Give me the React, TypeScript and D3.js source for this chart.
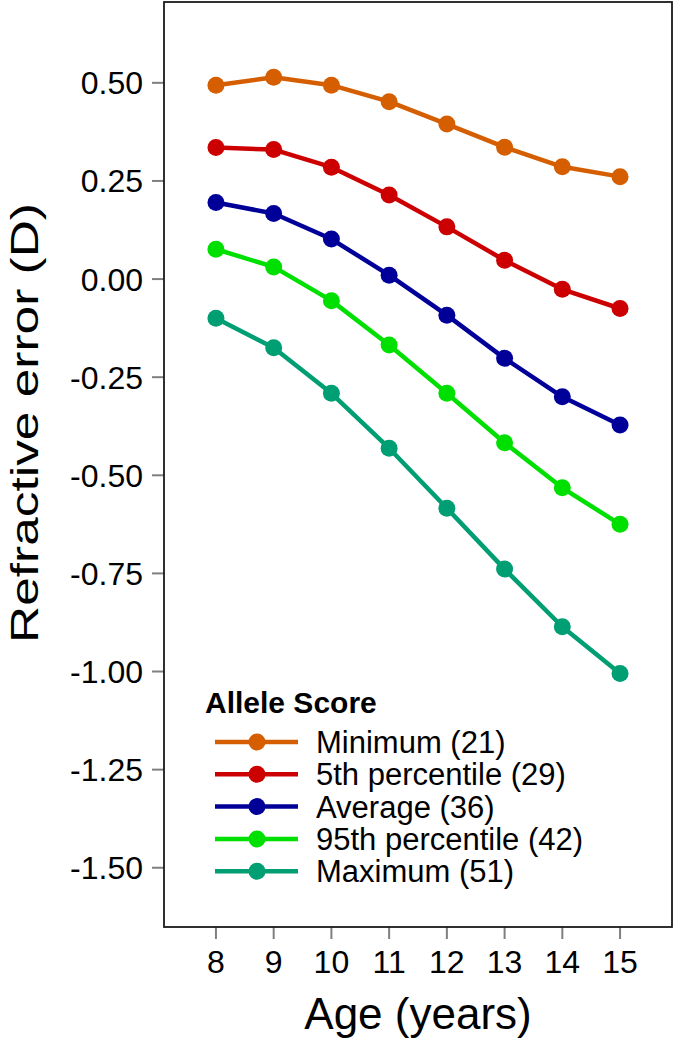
import React from "react";
import * as d3 from "d3";

// ages on the x axis
const ages = [8, 9, 10, 11, 12, 13, 14, 15];
const yTicks = [0.5, 0.25, 0, -0.25, -0.5, -0.75, -1.0, -1.25, -1.5];

// refractive error (D) per allele score group
const minimum = [0.494, 0.514, 0.494, 0.452, 0.395, 0.336, 0.286, 0.261];
const pct5 = [0.335, 0.33, 0.285, 0.214, 0.133, 0.048, -0.026, -0.075];
const average = [0.195, 0.167, 0.102, 0.01, -0.092, -0.202, -0.3, -0.372];
const pct95 = [0.076, 0.031, -0.055, -0.168, -0.291, -0.417, -0.532, -0.625];
const maximum = [-0.1, -0.175, -0.291, -0.431, -0.584, -0.739, -0.886, -1.005];

const seriesNames = ["Minimum (21)", "5th percentile (29)", "Average (36)", "95th percentile (42)", "Maximum (51)"];
const seriesColors = ["#D55E00", "#CC0000", "#000099", "#00E000", "#009E73"];

const W = 675, H = 1044;
const margin = { top: 2, right: 3, bottom: 117, left: 164 };
const font = "'Liberation Sans', Arial, sans-serif";

export default function App() {
    const series = [minimum, pct5, average, pct95, maximum].map((vals, i) => ({
        name: seriesNames[i],
        color: seriesColors[i],
        values: vals.map((v, j) => ({ age: ages[j], value: v }))
    }));

    const x = d3.scaleLinear().domain([7.1, 15.9]).range([margin.left, W - margin.right]);
    const y = d3.scaleLinear().domain([0.706, -1.651]).range([margin.top, H - margin.bottom]);

    const line = d3.line<{ age: number; value: number }>()
        .x(d => x(d.age))
        .y(d => y(d.value));

    const x0 = x.range()[0], x1 = x.range()[1];
    const y0 = y.range()[0], y1 = y.range()[1];

    // legend layout
    const legX = 205, legTitleY = 713, legRow0 = 742, legStep = 32.3;

    return (
        <svg width={W} height={H} style={{ position: "absolute", left: 0, top: 0 }} fontFamily={font}>
            <rect x={0} y={0} width={W} height={H} fill="#fff" />

            {/* y axis ticks */}
            {yTicks.map(t => (
                <g key={"y" + t}>
                    <line x1={x0 - 12} x2={x0} y1={y(t)} y2={y(t)} stroke="#7f7f7f" strokeWidth={2} />
                    <text x={x0 - 21} y={y(t)} dy="0.36em" textAnchor="end" fontSize={32} fill="#000">
                        {d3.format(".2f")(t).replace("−", "-")}
                    </text>
                </g>
            ))}

            {/* x axis ticks */}
            {ages.map(a => (
                <g key={"x" + a}>
                    <line x1={x(a)} x2={x(a)} y1={y1} y2={y1 + 12} stroke="#7f7f7f" strokeWidth={2} />
                    <text x={x(a)} y={973} textAnchor="middle" fontSize={32} fill="#000">{a}</text>
                </g>
            ))}

            {/* series */}
            {series.map(s => (
                <g key={s.name}>
                    <path d={line(s.values) || ""} fill="none" stroke={s.color} strokeWidth={4.5} strokeLinejoin="round" />
                    {s.values.map(d => (
                        <circle key={d.age} cx={x(d.age)} cy={y(d.value)} r={8.5} fill={s.color} />
                    ))}
                </g>
            ))}

            {/* panel border */}
            <rect x={x0} y={y0} width={x1 - x0} height={y1 - y0} fill="none" stroke="#1a1a1a" strokeWidth={1.8} />

            {/* legend */}
            <text x={legX} y={legTitleY} fontSize={30} fontWeight="bold" fill="#000">Allele Score</text>
            {series.map((s, i) => {
                const cy = legRow0 + i * legStep;
                return (
                    <g key={"leg" + i}>
                        <line x1={215} x2={298} y1={cy} y2={cy} stroke={s.color} strokeWidth={4.5} />
                        <circle cx={257} cy={cy} r={8.5} fill={s.color} />
                        <text x={316} y={cy + 11} fontSize={31} fill="#000">{s.name}</text>
                    </g>
                );
            })}

            {/* axis titles */}
            <text x={(x0 + x1) / 2} y={1029} textAnchor="middle" fontSize={44} fill="#000">Age (years)</text>
            <text transform="translate(38,423) rotate(-90)" textAnchor="middle" fontSize={38} fill="#000"
                textLength={440} lengthAdjust="spacingAndGlyphs">
                Refractive error (D)
            </text>
        </svg>
    );
}
